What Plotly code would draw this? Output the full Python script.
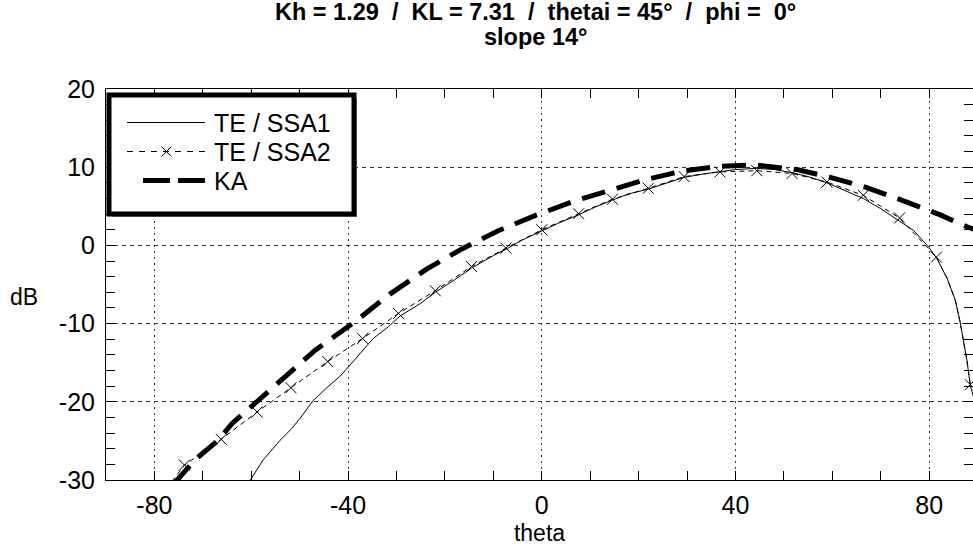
import plotly.graph_objects as go

# ---------------- data ----------------
ssa1_theta = [-60.2, -57.5, -54.0, -51.6, -49.9, -47.3, -44.4, -41.6, -39.6, -37.0, -34.8,
              -31.7, -29.2, -25.0, -22.0, -18.0, -14.5, -10.0, -7.4, -4.0, 0.0, 4.0, 7.6,
              11.0, 14.6, 18.0, 22.0, 26.0, 29.4, 33.0, 36.8, 40.0, 44.4, 48.0, 51.7, 55.0,
              58.9, 62.0, 66.4, 70.0, 73.9, 76.8, 79.9, 81.6, 83.7, 85.4, 86.4, 87.8, 88.5, 89.2]
ssa1_db = [-30.0, -27.4, -24.9, -23.4, -22.1, -19.9, -18.2, -16.7, -15.3, -13.4, -11.9,
           -10.4, -9.0, -7.4, -6.0, -4.4, -2.9, -1.3, -0.5, 0.7, 1.9, 3.0, 3.9,
           4.9, 5.8, 6.6, 7.2, 8.0, 8.7, 9.1, 9.4, 9.7, 9.85, 9.7, 9.3, 8.8,
           8.0, 7.2, 6.0, 4.7, 3.1, 1.9, -0.2, -1.7, -4.2, -7.0, -9.8, -14.7, -17.9, -19.5]

ssa2_theta = [-73.8, -66.2, -58.8, -51.8, -44.2, -37.0, -29.6, -22.0, -14.5, -7.4, 0.0, 7.6,
              14.6, 22.0, 29.4, 36.8, 44.4, 51.7, 58.9, 66.4, 73.9, 81.5, 88.5]
ssa2_db = [-28.1, -24.8, -21.3, -18.2, -14.85, -11.9, -8.7, -5.8, -2.7, -0.35, 2.0, 4.05,
           5.9, 7.3, 8.8, 9.4, 9.55, 9.2, 8.1, 6.4, 3.5, -1.5, -17.8]
# extra curve points of SSA2 between markers
ssa2_extra_theta = [-76.4, 83.7, 85.4, 86.4, 87.8]
ssa2_extra_db = [-30.2, -4.2, -7.0, -9.8, -14.7]

ka_theta = [-76.0, -71.6, -66.8, -64.0, -59.6, -56.5, -53.0, -46.8, -38.9, -31.3, -23.7,
            -16.5, -8.9, -1.4, 6.6, 14.0, 21.4, 29.3, 36.8, 43.7, 52.7, 59.6, 67.1, 74.7,
            82.3, 88.1, 89.2]
ka_db = [-30.5, -27.4, -24.9, -22.8, -20.4, -18.7, -16.8, -13.4, -9.9, -6.2, -3.0,
         -0.45, 1.9, 3.8, 5.65, 7.1, 8.4, 9.55, 10.1, 10.3, 9.7, 8.7, 7.4, 5.7,
         3.9, 2.3, 2.1]

x_ticks = [-80, -40, 0, 40, 80]
x_ticktext = ["-80", "-40", "0", "40", "80"]
y_ticks = [-30, -20, -10, 0, 10, 20]
y_ticktext = ["-30", "-20", "-10", "0", "10", "20"]
series_names = ["TE / SSA1", "TE / SSA2", "KA"]
title_line1 = "Kh = 1.29\u00a0\u00a0/\u00a0\u00a0KL = 7.31\u00a0\u00a0/\u00a0\u00a0thetai = 45°\u00a0\u00a0/\u00a0\u00a0phi =\u00a0\u00a00°"
title_line2 = "slope 14°"

# ---------------- layout constants ----------------
W, H = 973, 547
ML, MR, MT, MB = 106, 0, 89, 67
PW, PH = W - ML - MR, H - MT - MB
FONT = "Liberation Sans, Arial, sans-serif"


def px(xs):
    return (xs - ML) / PW


def py(ys):
    return (H - MB - ys) / PH


fig = go.Figure()

pts2 = sorted(zip(ssa2_theta + ssa2_extra_theta, ssa2_db + ssa2_extra_db))
fig.add_trace(go.Scatter(x=[p[0] for p in pts2], y=[p[1] for p in pts2], mode="lines",
                         line=dict(color="black", width=1, dash="5px,4px"),
                         showlegend=False, hoverinfo="skip"))
fig.add_trace(go.Scatter(x=ssa2_theta, y=ssa2_db, mode="markers", name=series_names[1],
                         marker=dict(symbol="x-thin", size=11, line=dict(color="black", width=1)),
                         showlegend=False))
fig.add_trace(go.Scatter(x=ssa1_theta, y=ssa1_db, mode="lines", name=series_names[0],
                         line=dict(color="black", width=1), showlegend=False))
fig.add_trace(go.Scatter(x=ka_theta, y=ka_db, mode="lines", name=series_names[2],
                         line=dict(color="black", width=5, dash="24px,12px"),
                         showlegend=False, yaxis="y2"))

grid_col = "#333333"
fig.update_layout(
    width=W, height=H,
    margin=dict(l=ML, r=MR, t=MT, b=MB, pad=0),
    paper_bgcolor="white", plot_bgcolor="white",
    font=dict(family=FONT, size=25, color="black"),
    showlegend=False,
    xaxis=dict(range=[-90, -90 + PW / 4.842], tickvals=x_ticks, ticktext=x_ticktext,
               ticks="inside", ticklen=9,
               tickcolor="black", showline=True, linecolor="black", linewidth=1,
               mirror="ticks", showgrid=True, gridcolor=grid_col, gridwidth=1,
               griddash="2px,4px", zeroline=False,
               minor=dict(dtick=10, tick0=0, ticks="inside", ticklen=9, tickcolor="black",
                          showgrid=False),
               title=dict(text="theta", font=dict(size=23), standoff=6),
               ticklabelstandoff=3, tickfont=dict(size=25)),
    yaxis=dict(range=[-30, 20], tickvals=y_ticks, ticktext=y_ticktext,
               ticks="inside", ticklen=9,
               tickcolor="black", showline=True, linecolor="black", linewidth=1,
               mirror=False, showgrid=True, gridcolor=grid_col, gridwidth=1,
               griddash="4px,4px", zeroline=False,
               minor=dict(dtick=2, tick0=0, ticks="inside", ticklen=9, tickcolor="black",
                          showgrid=False),
               ticklabelstandoff=5, tickfont=dict(size=25)),
    yaxis2=dict(range=[-30, 20], overlaying="y", side="right", tickvals=y_ticks,
                ticks="inside", ticklen=9, tickcolor="black", showline=False,
                showgrid=False, zeroline=False, showticklabels=False,
                minor=dict(dtick=2, tick0=0, ticks="inside", ticklen=9, tickcolor="black",
                           showgrid=False)),
)

# title lines
for txt, yc in ((title_line1, 12), (title_line2, 37)):
    fig.add_annotation(text=f"<b>{txt}</b>", x=px(535), y=py(yc), xref="paper", yref="paper",
                       showarrow=False, xanchor="center", yanchor="middle", height=24,
                       font=dict(size=23.5, family=FONT))

# y-axis label (horizontal, as in the reference)
fig.add_annotation(text="dB", x=px(24), y=py(297), xref="paper", yref="paper",
                   showarrow=False, xanchor="center", yanchor="middle", font=dict(size=23))

# ---------------- manual legend ----------------
shapes = []
shapes.append(dict(type="rect", xref="paper", yref="paper", x0=px(112), x1=px(357),
                   y0=py(217), y1=py(99), line=dict(width=0), fillcolor="#888888", layer="above"))
shapes.append(dict(type="rect", xref="paper", yref="paper", x0=px(109), x1=px(354),
                   y0=py(214), y1=py(95), line=dict(color="black", width=5),
                   fillcolor="white", layer="above"))
rows = [122.5, 151.5, 180.5]
shapes.append(dict(type="line", xref="paper", yref="paper", x0=px(127), x1=px(205),
                   y0=py(rows[0]), y1=py(rows[0]), line=dict(color="black", width=1), layer="above"))
shapes.append(dict(type="line", xref="paper", yref="paper", x0=px(127), x1=px(205),
                   y0=py(rows[1]), y1=py(rows[1]), line=dict(color="black", width=1, dash="6px,6px"),
                   layer="above"))
shapes.append(dict(type="line", xref="paper", yref="paper", x0=px(143), x1=px(205),
                   y0=py(rows[2]), y1=py(rows[2]), line=dict(color="black", width=5, dash="27px,8px"),
                   layer="above"))
# the "x" symbol of SSA2 in the legend
for d in (-1, 1):
    shapes.append(dict(type="line", xref="paper", yref="paper", x0=px(161.5), x1=px(171.5),
                       y0=py(rows[1] - 5 * d), y1=py(rows[1] + 5 * d),
                       line=dict(color="black", width=1), layer="above"))
fig.update_layout(shapes=shapes)
for name, r in zip(series_names, rows):
    fig.add_annotation(text=name, x=px(212), y=py(r), xref="paper", yref="paper",
                       showarrow=False, xanchor="left", yanchor="middle", height=25,
                       font=dict(size=25))

fig.write_html("out.html", config={"displayModeBar": False},
               post_script="document.body.style.margin='0px';")
